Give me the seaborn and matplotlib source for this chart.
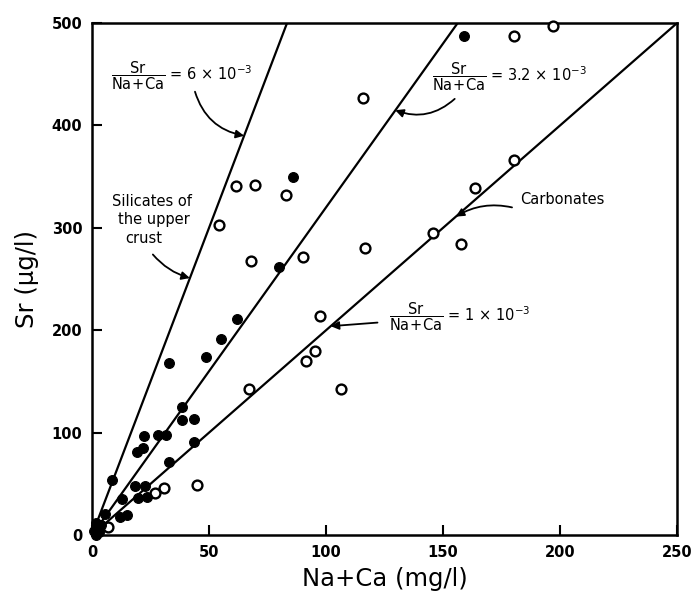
import matplotlib
matplotlib.use("Agg")
import matplotlib.pyplot as plt
import seaborn as sns
import pandas as pd
import numpy as np

# Open circles: carbonate-dominated waters
open_na_ca = [197, 180.5, 180.3, 163.7, 115.7, 61.4, 69.7, 83, 54.3, 68, 90,
              116.7, 145.9, 157.7, 97.4, 95.4, 91.6, 106.4, 67.1, 30.8, 26.9,
              45, 6.7]
open_sr = [497, 487.6, 366, 338.6, 426.6, 341, 341.5, 332, 303, 267.5, 271.5,
           280.5, 295.2, 284.4, 213.6, 179.7, 170, 142.8, 142.6, 45.7, 40.8,
           48.9, 8.1]

# Filled circles: silicate-dominated waters
filled_na_ca = [159.1, 85.8, 80, 62.1, 55.3, 48.7, 33.0, 38.6, 38.3, 43.7,
                22.4, 28.1, 31.6, 19.1, 21.9, 43.7, 33.0, 8.4, 18.4, 22.6,
                19.8, 23.4, 12.7, 5.6, 12, 14.8, 1.5, 2.5, 1, 3, 1.5, 4]
filled_sr = [487, 350, 262, 211, 191.5, 173.9, 168, 125.5, 112.5, 113.2,
             96.9, 97.8, 97.8, 81.5, 84.8, 91.3, 71.7, 53.8, 47.9, 47.9,
             35.9, 36.9, 35.2, 20.5, 17.3, 19.6, 12, 8, 4, 3, 0.5, 10]

# Reference lines Sr = slope * (Na+Ca)
line_slopes = [6.0, 3.2, 2.0]

x_ticks = [0, 50, 100, 150, 200, 250]
y_ticks = [0, 100, 200, 300, 400, 500]
x_max, y_max = 250, 500

sns.set_theme(style="ticks")
plt.rcParams["font.family"] = ["DejaVu Sans"]
plt.rcParams["mathtext.fontset"] = "dejavusans"
plt.rcParams["text.color"] = "black"
plt.rcParams["axes.labelcolor"] = "black"

fig = plt.figure(figsize=(6.94, 6.08), dpi=100)
ax = fig.add_axes([0.1326, 0.12, 0.9755 - 0.1326, 0.962 - 0.12])

# reference lines from the origin to the plot edge
rows = []
for k, s in enumerate(line_slopes):
    x_end = min(x_max, y_max / s)
    rows.append({"line": k, "x": 0.0, "y": 0.0})
    rows.append({"line": k, "x": x_end, "y": s * x_end})
lines_df = pd.DataFrame(rows)
sns.lineplot(data=lines_df, x="x", y="y", units="line", estimator=None,
             color="black", linewidth=1.6, ax=ax, legend=False)

open_df = pd.DataFrame({"x": open_na_ca, "y": open_sr})
filled_df = pd.DataFrame({"x": filled_na_ca, "y": filled_sr})
sns.scatterplot(data=open_df, x="x", y="y", marker="o", s=50,
                facecolor="white", edgecolor="black", linewidth=1.7,
                ax=ax, zorder=3, clip_on=False)
sns.scatterplot(data=filled_df, x="x", y="y", marker="o", s=50,
                color="black", edgecolor="black", linewidth=0.8,
                ax=ax, zorder=3, clip_on=False)

ax.set_xlim(0, x_max)
ax.set_ylim(0, y_max)
ax.set_xticks(x_ticks)
ax.set_yticks(y_ticks)
ax.tick_params(direction="in", length=7, width=1.5, labelsize=10.5,
               pad=7, colors="black")
for lbl in ax.get_xticklabels() + ax.get_yticklabels():
    lbl.set_fontweight("bold")
for sp in ax.spines.values():
    sp.set_linewidth(1.8)
    sp.set_color("black")

ax.set_xlabel("Na+Ca (mg/l)", fontsize=17.5, labelpad=5)
ax.set_ylabel("Sr (μg/l)", fontsize=17.5, labelpad=9)

arrow = dict(arrowstyle="-|>", color="black", lw=1.3, mutation_scale=12,
             shrinkA=0, shrinkB=0)
frac = r"$\dfrac{\mathrm{Sr}}{\mathrm{Na\!+\!Ca}}$"

# ratio labels
ax.text(8, 449, frac + " = 6 × 10$^{-3}$",
        fontsize=10.5, ha="left", va="center")
ax.annotate("", xy=(65, 390), xytext=(44, 433),
            arrowprops=dict(arrow, connectionstyle="arc3,rad=0.3"))

ax.text(145.5, 448, frac + " = 3.2 × 10$^{-3}$",
        fontsize=10.5, ha="left", va="center")
ax.annotate("", xy=(129.6, 414.9), xytext=(155, 426),
            arrowprops=dict(arrow, connectionstyle="arc3,rad=-0.3"))

ax.text(183, 328, "Carbonates", fontsize=10.5, ha="left", va="center")
ax.annotate("", xy=(155.5, 311), xytext=(179.5, 320),
            arrowprops=dict(arrow, connectionstyle="arc3,rad=0.2"))

ax.text(127, 213.6, frac + " = 1 × 10$^{-3}$",
        fontsize=10.5, ha="left", va="center")
ax.annotate("", xy=(102, 204), xytext=(122, 207.5),
            arrowprops=dict(arrow, connectionstyle="arc3,rad=0.0"))

ax.text(8.5, 326, "Silicates of", fontsize=10.5, ha="left", va="center")
ax.text(11, 308, "the upper", fontsize=10.5, ha="left", va="center")
ax.text(14, 290, "crust", fontsize=10.5, ha="left", va="center")
ax.annotate("", xy=(41.8, 251), xytext=(26, 274),
            arrowprops=dict(arrow, connectionstyle="arc3,rad=0.15"))

fig.savefig("out.png", dpi=100)
